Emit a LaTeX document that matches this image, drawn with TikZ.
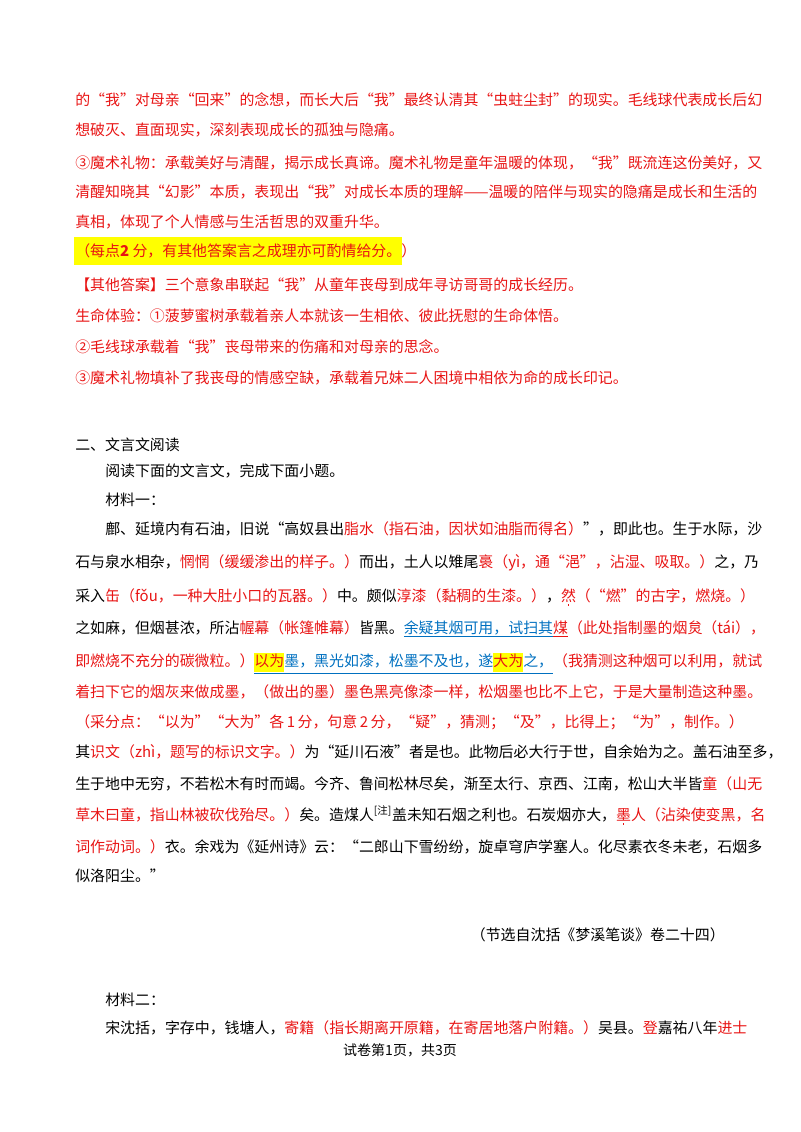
\documentclass[tikz,border=0pt]{standalone}
\usepackage{fontspec}
\setmainfont{Noto Sans CJK SC}
\XeTeXlinebreaklocale "zh"
\XeTeXlinebreakskip=0pt plus 2pt minus 0.5pt
\definecolor{ansred}{RGB}{232,20,20}
\definecolor{ublue}{RGB}{0,112,192}
\definecolor{hlyellow}{RGB}{255,255,0}
\newcommand\R[1]{\textcolor{ansred}{#1}}
\newcommand\U[1]{\textcolor{ublue}{\underline{#1}}}
\newcommand\hl[1]{{\setlength{\fboxsep}{0pt}\colorbox{hlyellow}{\strut #1}}}
\newcommand\zd[1]{\leavevmode\ooalign{#1\cr\hidewidth\raisebox{-3.5pt}{\rule{1.3pt}{1.3pt}}\hidewidth\cr}}
\newcommand\fullline[1]{\hbox to 487pt{#1}}
\newcommand\indline[1]{\hbox to 465pt{#1}}
\tikzset{
  txt/.style={anchor=base west, inner sep=0pt, font=\fontsize{11.2pt}{14pt}\selectfont},
  redtxt/.style={txt, text=ansred}
}
\begin{document}
\begin{tikzpicture}[x=0.75pt,y=-0.75pt]
\useasboundingbox (0,0) rectangle (800,1132);
% highlight box
\fill[hlyellow] (74,237) rectangle (402,265);
% answer part
\node[redtxt] (a1) at (75,105) {\fullline{的“我”对母亲“回来”的念想，而长大后“我”最终认清其“虫蛀尘封”的现实。毛线球代表成长后幻}};
\node[redtxt] (a2) at (75,135) {想破灭、直面现实，深刻表现成长的孤独与隐痛。};
\node[redtxt] (a3) at (75,168) {\fullline{③魔术礼物：承载美好与清醒，揭示成长真谛。魔术礼物是童年温暖的体现，“我”既流连这份美好，又}};
\node[redtxt] (a4) at (75,197) {\fullline{清醒知晓其“幻影”本质，表现出“我”对成长本质的理解——温暖的陪伴与现实的隐痛是成长和生活的}};
\node[redtxt] (a5) at (75,227) {真相，体现了个人情感与生活哲思的双重升华。};
\node[redtxt] (a6) at (75,256) {（每点\textbf{2} 分，有其他答案言之成理亦可酌情给分。）};
\node[redtxt] (a7) at (75,290) {【其他答案】三个意象串联起“我”从童年丧母到成年寻访哥哥的成长经历。};
\node[redtxt] (a8) at (75,321) {生命体验：①菠萝蜜树承载着亲人本就该一生相依、彼此抚慰的生命体悟。};
\node[redtxt] (a9) at (75,352) {②毛线球承载着“我”丧母带来的伤痛和对母亲的思念。};
\node[redtxt] (a10) at (75,383) {③魔术礼物填补了我丧母的情感空缺，承载着兄妹二人困境中相依为命的成长印记。};
% section two
\node[txt] (s2) at (75,450) {二、文言文阅读};
\node[txt] (s2q) at (105,476) {阅读下面的文言文，完成下面小题。};
\node[txt] (m1) at (105,505) {材料一：};
\node[txt] (p1) at (105,534) {\indline{鄜、延境内有石油，旧说“高奴县出\R{脂水（指石油，因状如油脂而得名）}”，即此也。生于水际，沙}};
\node[txt] (p2) at (75,567) {\fullline{石与泉水相杂，\R{惘惘（缓缓渗出的样子。）}而出，土人以雉尾\R{裛（yì，通“浥”，沾湿、吸取。）}之，乃}};
\node[txt] (p3) at (75,601) {\fullline{采入\R{缶（fǒu，一种大肚小口的瓦器。）}中。颇似\R{淳漆（黏稠的生漆。）}，\R{\zd{然}（“燃”的古字，燃烧。）}}};
\node[txt] (p4) at (75,633) {\fullline{之如麻，但烟甚浓，所沾\R{幄幕（帐篷帷幕）}皆黑。\U{余疑其烟可用，试扫其}\R{\underline{煤}（此处指制墨的烟炱（tái），}}};
\node[txt] (p5) at (75,666) {\fullline{\R{即燃烧不充分的碳微粒。）}\U{\R{\hl{以为}}墨，黑光如漆，松墨不及也，遂\R{\hl{大为}}之，}\R{（我猜测这种烟可以利用，就试}}};
\node[redtxt] (p6) at (75,697) {\fullline{着扫下它的烟灰来做成墨，（做出的墨）墨色黑亮像漆一样，松烟墨也比不上它，于是大量制造这种墨。}};
\node[redtxt] (p7) at (75,727) {\fullline{（采分点：“以为”“大为”各\,1\,分，句意\,2\,分，“疑”，猜测；“及”，比得上；“为”，制作。）}};
\node[txt] (p8) at (75,757) {\fullline{其\R{识文（zhì，题写的标识文字。）}为“延川石液”者是也。此物后必大行于世，自余始为之。盖石油至多，}};
\node[txt] (p9) at (75,789) {\fullline{生于地中无穷，不若松木有时而竭。今齐、鲁间松林尽矣，渐至太行、京西、江南，松山大半皆\R{童（山无}}};
\node[txt] (p10) at (75,820) {\fullline{\R{草木曰童，指山林被砍伐殆尽。）}矣。造煤人\textsuperscript{[注]}盖未知石烟之利也。石炭烟亦大，\R{\zd{墨}人（沾染使变黑，名}}};
\node[txt] (p11) at (75,852) {\fullline{\R{词作动词。）}衣。余戏为《延州诗》云：“二郎山下雪纷纷，旋卓穹庐学塞人。化尽素衣冬未老，石烟多}};
\node[txt] (p12) at (75,881) {似洛阳尘。”};
\node[txt, anchor=base east] (src) at (725,940) {（节选自沈括《梦溪笔谈》卷二十四）};
\node[txt] (m2) at (105,1005) {材料二：};
\node[txt] (q1) at (105,1033) {\indline{宋沈括，字存中，钱塘人，\R{寄籍（指长期离开原籍，在寄居地落户附籍。）}吴县。\R{登}嘉祐八年\R{进士}}};
\node[txt, anchor=base, font=\fontsize{10.5pt}{12pt}\selectfont] (foot) at (400,1055) {试卷第1页，共3页};
\end{tikzpicture}
\end{document}
